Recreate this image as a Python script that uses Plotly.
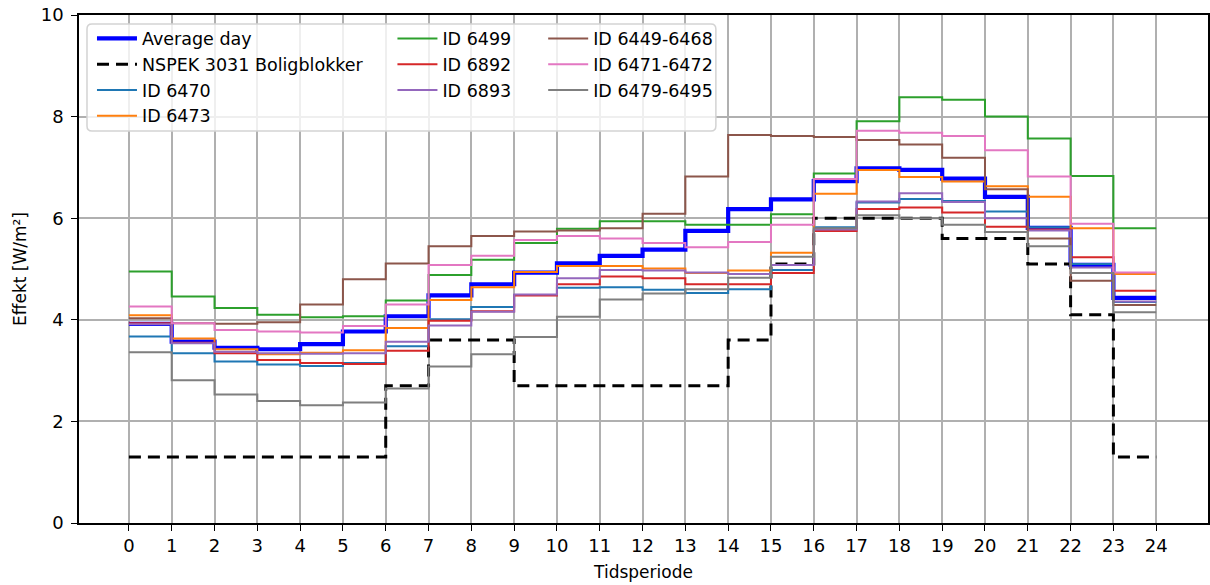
import plotly.graph_objects as go

hours = list(range(25))
tick_labels = [str(h) for h in hours]

avg_day = [3.92, 3.57, 3.45, 3.42, 3.52, 3.77, 4.07, 4.48, 4.70, 4.93, 5.11, 5.26,
           5.38, 5.75, 6.18, 6.37, 6.73, 6.98, 6.95, 6.78, 6.42, 5.81, 5.08, 4.43]
nspek = [1.3, 1.3, 1.3, 1.3, 1.3, 1.3, 2.7, 3.6, 3.6, 2.7, 2.7, 2.7,
         2.7, 2.7, 3.6, 5.1, 6.0, 6.0, 6.0, 5.6, 5.6, 5.1, 4.1, 1.3]
id_6470 = [3.67, 3.34, 3.18, 3.12, 3.09, 3.15, 3.48, 4.01, 4.25, 4.49, 4.63, 4.64,
           4.59, 4.53, 4.60, 4.98, 5.82, 6.31, 6.38, 6.34, 6.13, 5.82, 5.10, 4.35]
id_6473 = [4.09, 3.63, 3.42, 3.32, 3.35, 3.40, 3.84, 4.39, 4.64, 4.94, 5.06, 5.06,
           5.01, 4.92, 4.97, 5.32, 6.48, 6.95, 6.81, 6.72, 6.63, 6.42, 5.80, 4.90]
id_6499 = [4.95, 4.46, 4.23, 4.10, 4.05, 4.07, 4.38, 4.88, 5.18, 5.51, 5.79, 5.94,
           5.94, 5.87, 5.87, 6.08, 6.88, 7.91, 8.38, 8.33, 8.00, 7.57, 6.83, 5.80]
id_6892 = [3.93, 3.55, 3.34, 3.21, 3.15, 3.13, 3.39, 3.98, 4.17, 4.48, 4.70, 4.85,
           4.82, 4.70, 4.70, 4.92, 5.75, 6.18, 6.21, 6.11, 5.83, 5.78, 5.23, 4.57]
id_6893 = [3.91, 3.54, 3.37, 3.34, 3.33, 3.34, 3.57, 3.89, 4.16, 4.50, 4.82, 4.98,
           4.97, 4.93, 4.90, 5.08, 5.78, 6.33, 6.49, 6.32, 6.00, 5.76, 5.03, 4.36]
id_6449_6468 = [4.03, 3.93, 3.92, 3.95, 4.30, 4.80, 5.11, 5.45, 5.65, 5.74, 5.76, 5.80,
                6.09, 6.82, 7.64, 7.62, 7.60, 7.54, 7.45, 7.19, 6.57, 5.60, 4.77, 4.29]
id_6471_6472 = [4.26, 3.93, 3.80, 3.77, 3.75, 3.88, 4.30, 5.08, 5.26, 5.57, 5.65, 5.60,
                5.51, 5.43, 5.53, 5.87, 6.77, 7.72, 7.68, 7.62, 7.34, 6.82, 5.89, 4.93]
id_6479_6495 = [3.36, 2.81, 2.53, 2.40, 2.32, 2.37, 2.65, 3.08, 3.32, 3.66, 4.06, 4.40,
                4.52, 4.60, 4.83, 5.24, 5.80, 6.06, 6.00, 5.87, 5.73, 5.45, 4.92, 4.15]

series = [
    ("Average day", avg_day, "#0000ff", 4.2, "solid", "legend"),
    ("NSPEK 3031 Boligblokker", nspek, "#000000", 3.0, "12px,7px", "legend"),
    ("ID 6470", id_6470, "#1f77b4", 2.0, "solid", "legend"),
    ("ID 6473", id_6473, "#ff7f0e", 2.0, "solid", "legend"),
    ("ID 6499", id_6499, "#2ca02c", 2.0, "solid", "legend2"),
    ("ID 6892", id_6892, "#d62728", 2.0, "solid", "legend2"),
    ("ID 6893", id_6893, "#9467bd", 2.0, "solid", "legend2"),
    ("ID 6449-6468", id_6449_6468, "#8c564b", 2.0, "solid", "legend3"),
    ("ID 6471-6472", id_6471_6472, "#e377c2", 2.0, "solid", "legend3"),
    ("ID 6479-6495", id_6479_6495, "#7f7f7f", 2.0, "solid", "legend3"),
]

fig = go.Figure()
for name, vals, color, width, dash, leg in series:
    fig.add_trace(go.Scatter(
        x=hours, y=vals + [vals[-1]], mode="lines", name=name,
        line=dict(color=color, width=width, dash=dash, shape="hv"),
        legend=leg,
    ))

FONT = "DejaVu Sans"
L, R, T, B = 79, 0, 15, 62
W, H = 1210, 585
pw, ph = W - L - R, H - T - B


def px(xp):
    return (xp - L) / pw


def py(yp):
    return (H - B - yp) / ph


def rounded_rect(x0, y0, x1, y1, r):
    # pixel coordinates (y downward) -> paper path with rounded corners
    X0, X1 = px(x0), px(x1)
    Yt, Yb = py(y0), py(y1)
    rx, ry = r / pw, r / ph
    return (f"M{X0 + rx},{Yt} L{X1 - rx},{Yt} Q{X1},{Yt} {X1},{Yt - ry} "
            f"L{X1},{Yb + ry} Q{X1},{Yb} {X1 - rx},{Yb} "
            f"L{X0 + rx},{Yb} Q{X0},{Yb} {X0},{Yb + ry} "
            f"L{X0},{Yt - ry} Q{X0},{Yt} {X0 + rx},{Yt} Z")


leg_common = dict(
    bgcolor="rgba(0,0,0,0)", borderwidth=0, font=dict(family=FONT, size=17.5, color="#000"),
    xanchor="left", yanchor="top", orientation="v", tracegroupgap=0, itemwidth=40,
)

fig.update_layout(
    width=W, height=H,
    margin=dict(l=L, r=R, t=T, b=B),
    paper_bgcolor="white", plot_bgcolor="white",
    font=dict(family=FONT, size=17, color="#000"),
    legend=dict(x=px(92), y=py(20.5), **leg_common),
    legend2=dict(x=px(393), y=py(20.5), **leg_common),
    legend3=dict(x=px(544), y=py(20.5), **leg_common),
    shapes=[dict(type="path", xref="paper", yref="paper",
                 path=rounded_rect(87, 24, 717, 131, 5),
                 line=dict(color="#d3d3d3", width=1.5),
                 fillcolor="rgba(255,255,255,0.8)", layer="above")],
)

fig.update_xaxes(
    range=[-1.166, 25.21], tickmode="array", tickvals=hours, ticktext=tick_labels,
    showgrid=True, gridcolor="#b0b0b0", gridwidth=1.5,
    showline=True, linecolor="#000", linewidth=1.5, mirror=True,
    ticks="outside", ticklen=6, tickwidth=1.3, tickcolor="#000",
    tickfont=dict(family=FONT, size=18, color="#000"),
    title=dict(text="Tidsperiode", font=dict(family=FONT, size=17, color="#000"), standoff=11),
    zeroline=False,
)
fig.update_yaxes(
    range=[0, 10], tickvals=[0, 2, 4, 6, 8, 10],
    showgrid=True, gridcolor="#b0b0b0", gridwidth=1.5,
    showline=True, linecolor="#000", linewidth=1.5, mirror=True,
    ticks="outside", ticklen=6, tickwidth=1.3, tickcolor="#000",
    tickfont=dict(family=FONT, size=18, color="#000"), ticklabelstandoff=4,
    title=dict(text="Effekt [W/m²]", font=dict(family=FONT, size=17, color="#000"), standoff=10),
    zeroline=False,
)

fig.write_html("out.html")
